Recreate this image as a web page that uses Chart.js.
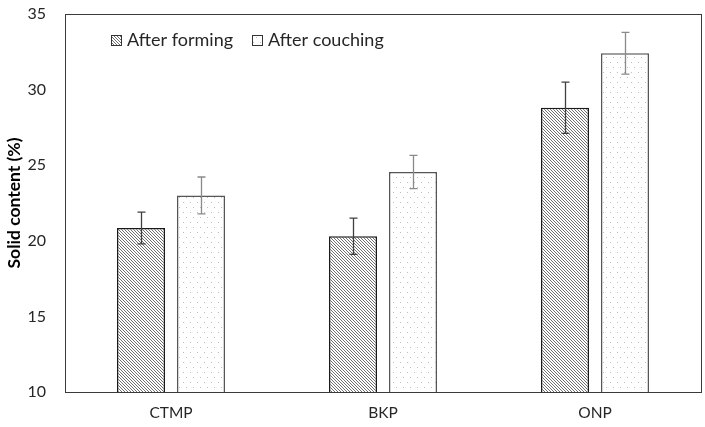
<!DOCTYPE html>
<html><head><meta charset="utf-8">
<script src="https://cdn.jsdelivr.net/npm/chart.js@4"></script>
<style>html,body{margin:0;padding:0;background:#fff;}#wrap{width:705px;height:427px;}</style>
</head><body><div id="wrap"><canvas id="c" width="705" height="427"></canvas></div>
<script>
const categories = ["CTMP", "BKP", "ONP"];
const seriesNames = ["After forming", "After couching"];
const formingValues = [20.85, 20.3, 28.8];
const formingErrors = [1.05, 1.2, 1.7];
const couchingValues = [23.0, 24.55, 32.4];
const couchingErrors = [1.22, 1.1, 1.38];
const yMin = 10, yMax = 35, yStep = 5;

function hatchPattern() {
  const c = document.createElement('canvas'); c.width = 3; c.height = 3;
  const x = c.getContext('2d');
  x.fillStyle = '#fff'; x.fillRect(0,0,3,3);
  x.fillStyle = '#707070';
  for (let i=0;i<3;i++) x.fillRect(i,i,1,1);
  return x.createPattern(c,'repeat');
}
function dotPattern() {
  const c = document.createElement('canvas'); c.width = 7; c.height = 10;
  const x = c.getContext('2d');
  x.fillStyle = '#fff'; x.fillRect(0,0,7,10);
  x.fillStyle = '#bdbdbd';
  x.fillRect(1,2,1,1); x.fillRect(4,7,1,1);
  return x.createPattern(c,'repeat');
}
const hatch = hatchPattern(), dots = dotPattern();
const FONT = 'Lato, "Open Sans", sans-serif';

const errorBars = {
  id: 'errorBars',
  afterDatasetsDraw(chart) {
    const ctx = chart.ctx, ys = chart.scales.y;
    const errs = [formingErrors, couchingErrors];
    const cols = ['#404040', '#8a8a8a'];
    chart.data.datasets.forEach((ds, di) => {
      const meta = chart.getDatasetMeta(di);
      meta.data.forEach((bar, i) => {
        const v = ds.data[i], e = errs[di][i];
        const yt = ys.getPixelForValue(v + e), yb = ys.getPixelForValue(v - e);
        const x = Math.round(bar.x) + 0.5;
        ctx.save(); ctx.strokeStyle = cols[di]; ctx.lineWidth = 1.3;
        ctx.beginPath();
        ctx.moveTo(x, yt); ctx.lineTo(x, yb);
        ctx.moveTo(x-4, yt); ctx.lineTo(x+4, yt);
        ctx.moveTo(x-4, yb); ctx.lineTo(x+4, yb);
        ctx.stroke(); ctx.restore();
      });
    });
  }
};
const frameAndLegend = {
  id: 'frameAndLegend',
  afterDraw(chart) {
    const ctx = chart.ctx, a = chart.chartArea;
    ctx.save();
    ctx.strokeStyle = '#3a3a3a'; ctx.lineWidth = 1;
    ctx.strokeRect(Math.round(a.left)+0.5, Math.round(a.top)+0.5, Math.round(a.right-a.left), Math.round(a.bottom-a.top));
    const fills = [hatch, dots];
    const xs = [a.left + 46, a.left + 187];
    ctx.font = '18px ' + FONT; ctx.textBaseline = 'middle';
    seriesNames.forEach((n, i) => {
      const bx = xs[i], by = 35;
      ctx.fillStyle = fills[i]; ctx.fillRect(bx, by, 10, 10);
      ctx.strokeStyle = '#333'; ctx.strokeRect(bx+0.5, by+0.5, 10, 10);
      ctx.fillStyle = '#262626'; ctx.fillText(n, bx + 16, by + 5);
    });
    ctx.restore();
  }
};

new Chart(document.getElementById('c'), {
  type: 'bar',
  data: {
    labels: categories,
    datasets: [
      { label: seriesNames[0], data: formingValues, backgroundColor: hatch, borderColor: '#1a1a1a', borderWidth: 1.5 },
      { label: seriesNames[1], data: couchingValues, backgroundColor: dots, borderColor: '#555', borderWidth: 1.5 }
    ]
  },
  options: {
    responsive: false, animation: false, devicePixelRatio: 1,
    layout: { padding: { top: 14, right: 4, left: 0, bottom: 0 } },
    datasets: { bar: { categoryPercentage: 0.566, barPercentage: 0.8 } },
    plugins: { legend: { display: false }, tooltip: { enabled: false } },
    scales: {
      x: {
        grid: { display: false, drawTicks: false }, border: { display: false },
        ticks: { font: { family: FONT, size: 15.5 }, color: '#262626', padding: 12 },
        afterFit(s) { s.height = 35; s.paddingLeft = 0; s.paddingRight = 0; }
      },
      y: {
        min: yMin, max: yMax,
        grid: { display: false, drawTicks: false }, border: { display: false },
        ticks: { stepSize: yStep, font: { family: FONT, size: 16 }, color: '#262626', padding: 19 },
        title: { display: true, text: 'Solid content (%)', font: { family: FONT, size: 17.5, weight: 'bold' }, color: '#000', padding: { top: 4, bottom: 0 } },
        afterFit(s) { s.width = 65; s.paddingTop = 0; s.paddingBottom = 0; }
      }
    }
  },
  plugins: [errorBars, frameAndLegend]
});
</script></body></html>
